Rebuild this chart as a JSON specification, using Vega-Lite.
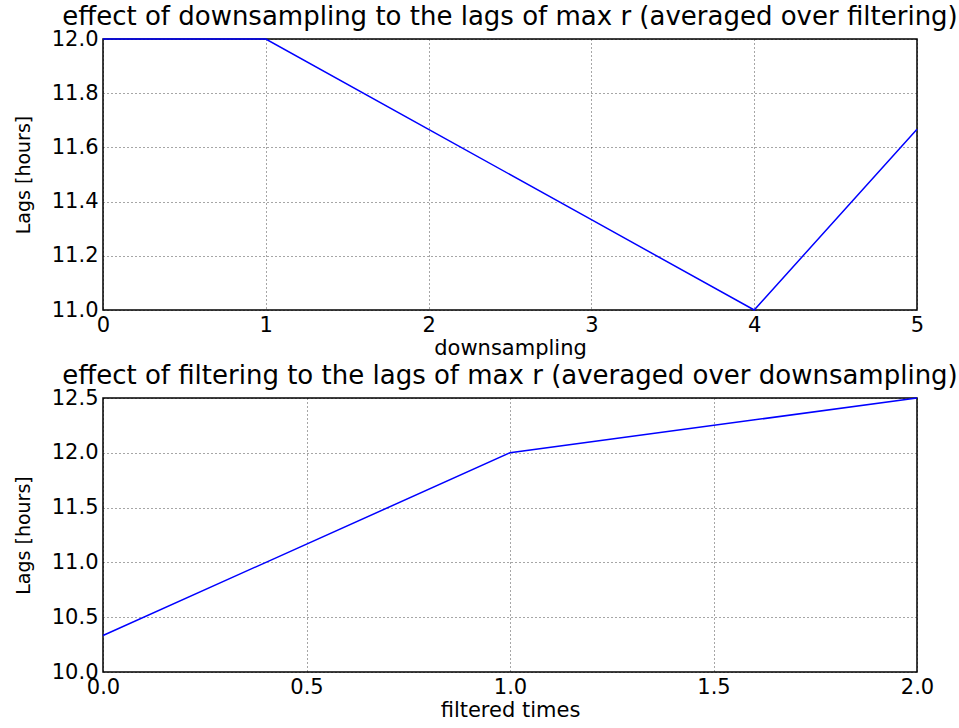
{
  "$schema": "https://vega.github.io/schema/vega-lite/v6.json",
  "padding": {"left": 13, "top": 3, "right": 0, "bottom": 0},
  "background": "white",
  "datasets": {
    "ds": [
      {"downsampling": 0, "lag": 12.0},
      {"downsampling": 1, "lag": 12.0},
      {"downsampling": 2, "lag": 11.6667},
      {"downsampling": 3, "lag": 11.3333},
      {"downsampling": 4, "lag": 11.0},
      {"downsampling": 5, "lag": 11.6667}
    ],
    "ft": [
      {"filtered": 0, "lag": 10.3333},
      {"filtered": 1, "lag": 12.0},
      {"filtered": 2, "lag": 12.5}
    ]
  },
  "spacing": 3,
  "vconcat": [
    {
      "title": "effect of downsampling to the lags of max r (averaged over filtering)",
      "width": 814,
      "height": 271,
      "data": {"name": "ds"},
      "mark": {"type": "line", "color": "#0000ff", "strokeWidth": 1.5, "clip": false},
      "encoding": {
        "x": {
          "field": "downsampling", "type": "quantitative",
          "scale": {"domain": [0, 5], "nice": false, "zero": false},
          "axis": {"values": [0, 1, 2, 3, 4, 5], "format": "d", "title": "downsampling"}
        },
        "y": {
          "field": "lag", "type": "quantitative",
          "scale": {"domain": [11, 12], "nice": false, "zero": false},
          "axis": {"values": [11.0, 11.2, 11.4, 11.6, 11.8, 12.0], "format": ".1f", "title": "Lags [hours]"}
        }
      }
    },
    {
      "title": "effect of filtering to the lags of max r (averaged over downsampling)",
      "width": 814,
      "height": 274,
      "data": {"name": "ft"},
      "mark": {"type": "line", "color": "#0000ff", "strokeWidth": 1.5, "clip": false},
      "encoding": {
        "x": {
          "field": "filtered", "type": "quantitative",
          "scale": {"domain": [0, 2], "nice": false, "zero": false},
          "axis": {"values": [0, 0.5, 1.0, 1.5, 2.0], "format": ".1f", "title": "filtered times"}
        },
        "y": {
          "field": "lag", "type": "quantitative",
          "scale": {"domain": [10, 12.5], "nice": false, "zero": false},
          "axis": {"values": [10.0, 10.5, 11.0, 11.5, 12.0, 12.5], "format": ".1f", "title": "Lags [hours]"}
        }
      }
    }
  ],
  "config": {
    "font": "DejaVu Sans",
    "view": {"stroke": "#000000", "strokeWidth": 1.5},
    "title": {"fontSize": 26, "fontWeight": "normal", "color": "#000000", "anchor": "middle", "offset": -2, "font": "DejaVu Sans"},
    "axis": {
      "domain": false,
      "ticks": false,
      "grid": true,
      "gridColor": "#000000",
      "gridDash": [1, 3],
      "gridOpacity": 0.7,
      "gridWidth": 1,
      "labelFontSize": 21,
      "labelColor": "#000000",
      "labelOverlap": false,
      "labelFlush": false,
      "labelBound": false,
      "titleFontSize": 21,
      "titleFontWeight": "normal",
      "titleColor": "#000000"
    },
    "axisX": {"labelPadding": 4, "titlePadding": 2},
    "axisY": {"labelPadding": 5, "titlePadding": 18, "titleFontSize": 19}
  }
}
